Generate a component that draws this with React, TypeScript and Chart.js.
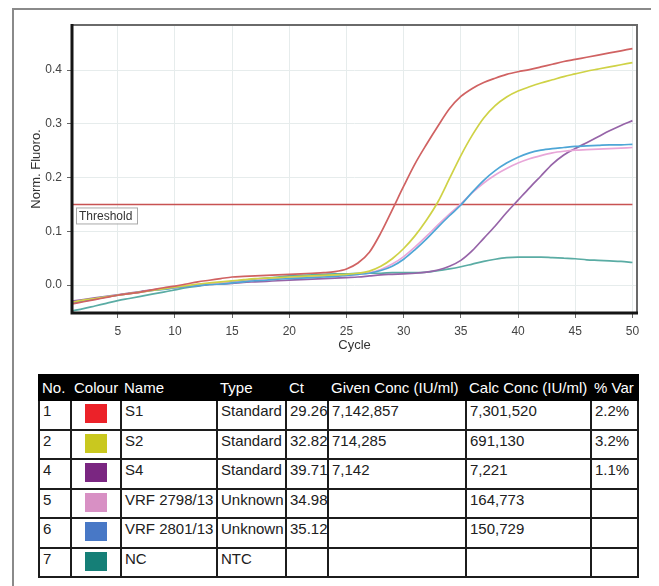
import React, { useEffect, useRef } from "react";
import { Chart, registerables } from "chart.js";

Chart.register(...registerables);

const CYCLES = [1, 2, 3, 4, 5, 6, 7, 8, 9, 10, 11, 12, 13, 14, 15, 16, 17, 18, 19, 20, 21, 22, 23, 24, 25, 26, 27, 28, 29, 30, 31, 32, 33, 34, 35, 36, 37, 38, 39, 40, 41, 42, 43, 44, 45, 46, 47, 48, 49, 50];

const S1 = [-0.035, -0.031, -0.027, -0.023, -0.019, -0.016, -0.013, -0.009, -0.005, -0.002,
  0.002, 0.006, 0.009, 0.012, 0.015, 0.016, 0.017, 0.018, 0.019, 0.020,
  0.021, 0.022, 0.023, 0.025, 0.030, 0.041, 0.061, 0.097, 0.140, 0.184,
  0.226, 0.262, 0.296, 0.328, 0.351, 0.366, 0.377, 0.385, 0.392, 0.397,
  0.401, 0.406, 0.411, 0.416, 0.420, 0.424, 0.428, 0.432, 0.436, 0.440];

const S2 = [-0.032, -0.028, -0.025, -0.022, -0.019, -0.016, -0.013, -0.010, -0.007, -0.004,
  -0.001, 0.002, 0.004, 0.006, 0.008, 0.010, 0.012, 0.013, 0.014, 0.015,
  0.016, 0.017, 0.018, 0.019, 0.020, 0.022, 0.026, 0.035, 0.049, 0.068,
  0.092, 0.121, 0.155, 0.198, 0.241, 0.279, 0.311, 0.334, 0.350, 0.361,
  0.369, 0.376, 0.382, 0.388, 0.393, 0.398, 0.402, 0.406, 0.410, 0.414];

const S4 = [-0.030, -0.027, -0.024, -0.021, -0.018, -0.015, -0.012, -0.009, -0.007, -0.005,
  -0.003, -0.001, 0.001, 0.002, 0.003, 0.005, 0.006, 0.007, 0.008, 0.009,
  0.010, 0.011, 0.012, 0.013, 0.014, 0.015, 0.017, 0.019, 0.020, 0.021,
  0.022, 0.024, 0.028, 0.035, 0.046, 0.064, 0.087, 0.110, 0.135, 0.158,
  0.181, 0.203, 0.225, 0.242, 0.254, 0.265, 0.276, 0.287, 0.297, 0.306];

const VRF2798 = [-0.033, -0.029, -0.026, -0.022, -0.019, -0.016, -0.013, -0.010, -0.007, -0.005,
  -0.002, 0.000, 0.002, 0.004, 0.005, 0.007, 0.009, 0.010, 0.012, 0.013,
  0.014, 0.015, 0.016, 0.017, 0.018, 0.020, 0.023, 0.029, 0.039, 0.053,
  0.071, 0.091, 0.112, 0.132, 0.151, 0.172, 0.190, 0.205, 0.217, 0.227,
  0.235, 0.241, 0.246, 0.249, 0.251, 0.252, 0.253, 0.254, 0.255, 0.256];

const VRF2801 = [-0.034, -0.030, -0.026, -0.022, -0.019, -0.016, -0.013, -0.010, -0.008, -0.005,
  -0.003, -0.001, 0.001, 0.002, 0.004, 0.006, 0.008, 0.009, 0.011, 0.012,
  0.013, 0.014, 0.015, 0.016, 0.018, 0.020, 0.022, 0.027, 0.035, 0.048,
  0.066, 0.086, 0.108, 0.129, 0.149, 0.173, 0.195, 0.213, 0.227, 0.238,
  0.246, 0.251, 0.254, 0.256, 0.258, 0.259, 0.260, 0.261, 0.261, 0.262];

const NC = [-0.048, -0.044, -0.039, -0.034, -0.029, -0.025, -0.021, -0.017, -0.013, -0.009,
  -0.005, -0.002, 0.001, 0.004, 0.007, 0.009, 0.011, 0.013, 0.015, 0.017,
  0.018, 0.019, 0.020, 0.021, 0.021, 0.022, 0.022, 0.022, 0.023, 0.023,
  0.023, 0.024, 0.027, 0.030, 0.034, 0.039, 0.044, 0.048, 0.051, 0.052,
  0.052, 0.052, 0.051, 0.050, 0.049, 0.047, 0.046, 0.045, 0.044, 0.042];

const THRESHOLD = 0.15;
const X_TICKS = [5, 10, 15, 20, 25, 30, 35, 40, 45, 50];
const Y_TICKS = [0.0, 0.1, 0.2, 0.3, 0.4];

const SERIES = [
  { name: "S1", values: S1, color: "#d06262" },
  { name: "S2", values: S2, color: "#cfd246" },
  { name: "VRF 2801/13", values: VRF2801, color: "#4ea6d6" },
  { name: "VRF 2798/13", values: VRF2798, color: "#e8a6d8" },
  { name: "S4", values: S4, color: "#9664a8" },
  { name: "NC", values: NC, color: "#5aaca4" },
];

const TABLE_HEAD = ["No.", "Colour", "Name", "Type", "Ct", "Given Conc (IU/ml)", "Calc Conc (IU/ml)", "% Var"];
const ROW_NO = ["1", "2", "4", "5", "6", "7"];
const ROW_SWATCH = ["#ec2229", "#c9c81f", "#7a2681", "#d890c4", "#4878c6", "#157f77"];
const ROW_NAME = ["S1", "S2", "S4", "VRF 2798/13", "VRF 2801/13", "NC"];
const ROW_TYPE = ["Standard", "Standard", "Standard", "Unknown", "Unknown", "NTC"];
const ROW_CT = ["29.26", "32.82", "39.71", "34.98", "35.12", ""];
const ROW_GIVEN = ["7,142,857", "714,285", "7,142", "", "", ""];
const ROW_CALC = ["7,301,520", "691,130", "7,221", "164,773", "150,729", ""];
const ROW_VAR = ["2.2%", "3.2%", "1.1%", "", "", ""];

const COL_W = [32, 50, 96, 69, 42, 138, 125, 47];

const FONT = "'Liberation Sans', Arial, sans-serif";

const framePlugin = {
  id: "framePlugin",
  afterDatasetsDraw(chart: any) {
    const { ctx, chartArea, scales } = chart;
    const { left } = chartArea;
    const ty = scales.y.getPixelForValue(THRESHOLD);
    ctx.save();
    ctx.font = `12px ${FONT}`;
    const bx = left + 4;
    const by = ty + 3;
    const bw = 61;
    const bh = 16;
    ctx.fillStyle = "#ffffff";
    ctx.fillRect(bx, by, bw, bh);
    ctx.strokeStyle = "#a8a8a8";
    ctx.lineWidth = 1;
    ctx.strokeRect(bx + 0.5, by + 0.5, bw, bh);
    ctx.fillStyle = "#333333";
    ctx.textBaseline = "middle";
    ctx.textAlign = "left";
    ctx.fillText("Threshold", bx + 3, by + bh / 2 + 1);
    ctx.restore();
  },
  afterDraw(chart: any) {
    const { ctx, chartArea } = chart;
    const { left, right, top, bottom } = chartArea;
    ctx.save();
    ctx.strokeStyle = "#6a6a6a";
    ctx.lineWidth = 2;
    ctx.beginPath();
    ctx.moveTo(left, top);
    ctx.lineTo(right, top);
    ctx.lineTo(right, bottom);
    ctx.stroke();
    ctx.strokeStyle = "#151515";
    ctx.lineWidth = 3;
    ctx.beginPath();
    ctx.moveTo(left, top - 1);
    ctx.lineTo(left, bottom);
    ctx.lineTo(right + 1, bottom);
    ctx.stroke();
    ctx.restore();
  },
};

function QpcrChart() {
  const ref = useRef<HTMLCanvasElement | null>(null);
  useEffect(() => {
    if (!ref.current) return;
    const datasets: any[] = SERIES.map((s) => ({
      label: s.name,
      data: CYCLES.map((c, i) => ({ x: c, y: s.values[i] })),
      borderColor: s.color,
      backgroundColor: s.color,
      borderWidth: 1.7,
      pointRadius: 0,
      cubicInterpolationMode: "monotone",
      fill: false,
    }));
    datasets.push({
      label: "Threshold",
      data: [
        { x: CYCLES[0], y: THRESHOLD },
        { x: CYCLES[CYCLES.length - 1], y: THRESHOLD },
      ],
      borderColor: "#c85252",
      borderWidth: 1.6,
      pointRadius: 0,
      fill: false,
    });
    const chart = new Chart(ref.current, {
      type: "line",
      data: { datasets },
      plugins: [framePlugin],
      options: {
        animation: false,
        responsive: false,
        devicePixelRatio: 1,
        layout: { padding: { left: 0, top: 15, right: 21, bottom: 0 } },
        plugins: { legend: { display: false }, tooltip: { enabled: false } },
        scales: {
          x: {
            type: "linear",
            min: 1,
            max: 50.4,
            afterFit: (s: any) => {
              s.height = 47;
            },
            afterBuildTicks: (s: any) => {
              s.ticks = X_TICKS.map((v) => ({ value: v }));
            },
            ticks: {
              color: "#444",
              font: { size: 12, family: FONT },
              padding: 6,
              maxRotation: 0,
              autoSkip: false,
            },
            grid: { color: "#e6ecec", tickLength: 5, tickColor: "#666", lineWidth: 1 },
            border: { display: false },
            title: {
              display: true,
              text: "Cycle",
              color: "#333",
              font: { size: 13, family: FONT },
              padding: { top: 0, bottom: 7 },
            },
          },
          y: {
            type: "linear",
            min: -0.052,
            max: 0.484,
            afterFit: (s: any) => {
              s.width = 60;
            },
            afterBuildTicks: (s: any) => {
              s.ticks = Y_TICKS.map((v) => ({ value: v }));
            },
            ticks: {
              color: "#444",
              font: { size: 12, family: FONT },
              padding: 5,
              callback: (v: any) => (Math.abs(Number(v)) < 1e-9 ? 0 : Number(v)).toFixed(1),
            },
            grid: { color: "#e6ecec", tickLength: 5, tickColor: "#666", lineWidth: 1 },
            border: { display: false },
            title: {
              display: true,
              text: "Norm. Fluoro.",
              color: "#333",
              font: { size: 13, family: FONT },
              padding: { top: 17, bottom: 0 },
            },
          },
        },
      },
    });
    return () => chart.destroy();
  }, []);
  return (
    <canvas
      ref={ref}
      width={646}
      height={350}
      style={{ position: "absolute", left: 4, top: 2, width: 646, height: 350 }}
    />
  );
}

export default function App() {
  const cell: React.CSSProperties = {
    border: "2px solid #1c1c1c",
    padding: "1px 3px",
    verticalAlign: "top",
    fontSize: 15,
    lineHeight: "17px",
    color: "#202020",
    whiteSpace: "nowrap",
    overflow: "hidden",
  };
  const head: React.CSSProperties = {
    ...cell,
    background: "#000",
    color: "#fff",
    verticalAlign: "middle",
    border: "2px solid #000",
    padding: "0 2px",
  };
  return (
    <div style={{ position: "relative", width: 651, height: 578, fontFamily: FONT, overflow: "hidden" }}>
      <div
        style={{
          position: "absolute",
          left: 4,
          top: 0,
          width: 646,
          height: 578,
          borderTop: "2px solid #8a8a8a",
          borderLeft: "2px solid #8a8a8a",
          boxSizing: "border-box",
        }}
      />
      <QpcrChart />
      <table
        style={{
          position: "absolute",
          left: 30,
          top: 366,
          width: 599,
          borderCollapse: "collapse",
          tableLayout: "fixed",
          fontFamily: FONT,
        }}
      >
        <colgroup>
          {COL_W.map((w, i) => (
            <col key={i} style={{ width: w }} />
          ))}
        </colgroup>
        <thead>
          <tr style={{ height: 25 }}>
            {TABLE_HEAD.map((h, i) => (
              <th key={i} style={{ ...head, textAlign: "left", fontWeight: "normal" }}>
                {h}
              </th>
            ))}
          </tr>
        </thead>
        <tbody>
          {ROW_NO.map((no, r) => (
            <tr key={r} style={{ height: 29.5 }}>
              <td style={cell}>{no}</td>
              <td style={{ ...cell, padding: "3px 0 0 0" }}>
                <div style={{ width: 22, height: 19, margin: "0 auto", background: ROW_SWATCH[r] }} />
              </td>
              <td style={cell}>{ROW_NAME[r]}</td>
              <td style={cell}>{ROW_TYPE[r]}</td>
              <td style={cell}>{ROW_CT[r]}</td>
              <td style={cell}>{ROW_GIVEN[r]}</td>
              <td style={cell}>{ROW_CALC[r]}</td>
              <td style={cell}>{ROW_VAR[r]}</td>
            </tr>
          ))}
        </tbody>
      </table>
    </div>
  );
}
